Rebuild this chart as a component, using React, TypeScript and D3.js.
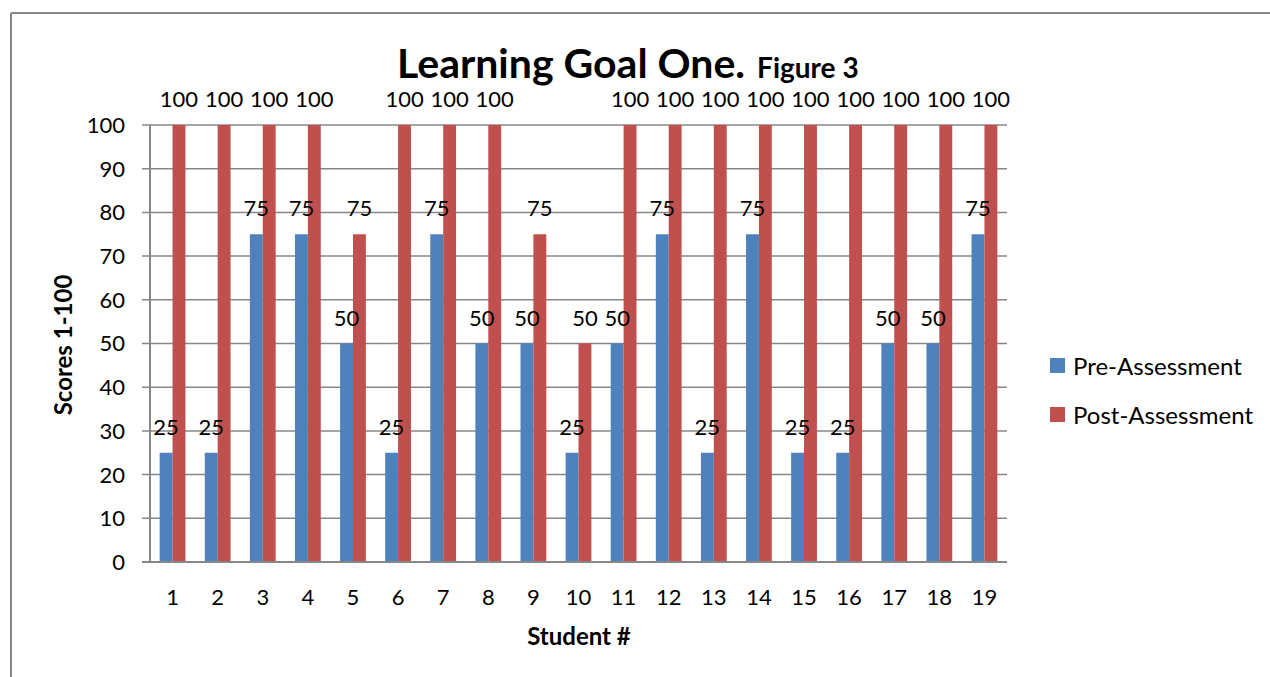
import React from "react";
import * as d3 from "d3";

// Learning Goal One — pre/post assessment scores per student
const students = ["1","2","3","4","5","6","7","8","9","10","11","12","13","14","15","16","17","18","19"];
const preScores = [25, 25, 75, 75, 50, 25, 75, 50, 50, 25, 50, 75, 25, 75, 25, 25, 50, 50, 75];
const postScores = [100, 100, 100, 100, 75, 100, 100, 100, 75, 50, 100, 100, 100, 100, 100, 100, 100, 100, 100];
const yTicks = [0, 10, 20, 30, 40, 50, 60, 70, 80, 90, 100];
const seriesNames = ["Pre-Assessment", "Post-Assessment"];
const seriesColors = ["#4F81BD", "#C0504D"];

const W = 1270;
const H = 677;
const plot = { left: 150, right: 1007, top: 125, bottom: 562 };
const FONT = "Lato, 'Open Sans', sans-serif";
const GRID = "#878787";

export default function App() {
  const x = d3
    .scaleBand<string>()
    .domain(students)
    .range([plot.left, plot.right])
    .paddingInner(0)
    .paddingOuter(0);
  const y = d3.scaleLinear().domain([0, 100]).range([plot.bottom, plot.top]);

  const cat = x.bandwidth();
  const barW = cat / 3.5; // 150% gap width
  const series = [preScores, postScores];

  const bars = series.flatMap((vals, k) =>
    students.map((s, i) => {
      const c = (x(s) ?? 0) + cat / 2;
      return { key: `${k}-${s}`, k, v: vals[i], bx: c - barW + k * barW };
    })
  );

  return (
    <svg
      width={W}
      height={H}
      style={{ position: "absolute", left: 0, top: 0, display: "block", background: "#fff" }}
      fontFamily={FONT}
    >
      {/* chart frame */}
      <line x1={11} y1={13} x2={W} y2={13} stroke={GRID} strokeWidth={2} />
      <line x1={11} y1={13} x2={11} y2={H} stroke={GRID} strokeWidth={2} />

      {/* title */}
      <text x={397} y={78} fontSize={41} fontWeight="bold" fill="#000">
        Learning Goal One.
        <tspan fontSize={28} dx={12}>Figure 3</tspan>
      </text>

      {/* gridlines and y ticks */}
      {yTicks.map((t) => (
        <g key={t}>
          <line x1={plot.left - 8} x2={plot.right} y1={y(t)} y2={y(t)} stroke={GRID} strokeWidth={1.5} />
          <text x={125} y={y(t)} dy="0.36em" textAnchor="end" fontSize={22} fill="#000">
            {t}
          </text>
        </g>
      ))}
      <line x1={plot.left} x2={plot.left} y1={plot.top} y2={plot.bottom} stroke={GRID} strokeWidth={2} />

      {/* bars */}
      {bars.map((b) => (
        <rect key={b.key} x={b.bx} y={y(b.v)} width={barW} height={y(0) - y(b.v)} fill={seriesColors[b.k]} />
      ))}
      <line x1={plot.left - 8} x2={plot.right} y1={plot.bottom} y2={plot.bottom} stroke={GRID} strokeWidth={2} />

      {/* value labels, drawn above all bars */}
      {bars.map((b) => (
        <text key={b.key} x={b.bx + barW / 2} y={y(b.v) - 18} textAnchor="middle" fontSize={22} fill="#000">
          {b.v}
        </text>
      ))}

      {/* category labels */}
      {students.map((s) => (
        <text key={s} x={(x(s) ?? 0) + cat / 2} y={605} textAnchor="middle" fontSize={22} fill="#000">
          {s}
        </text>
      ))}

      {/* axis titles */}
      <text x={579} y={645} textAnchor="middle" fontSize={24} fontWeight="bold" fill="#000">
        Student #
      </text>
      <text
        transform={`translate(72, 345) rotate(-90)`}
        textAnchor="middle"
        fontSize={24}
        fontWeight="bold"
        fill="#000"
      >
        Scores 1-100
      </text>

      {/* legend */}
      {seriesNames.map((n, k) => (
        <g key={n} transform={`translate(1050, ${358 + k * 49})`}>
          <rect x={0} y={0} width={15} height={15} fill={seriesColors[k]} />
          <text x={23} y={17} fontSize={24} fill="#000">
            {n}
          </text>
        </g>
      ))}
    </svg>
  );
}
